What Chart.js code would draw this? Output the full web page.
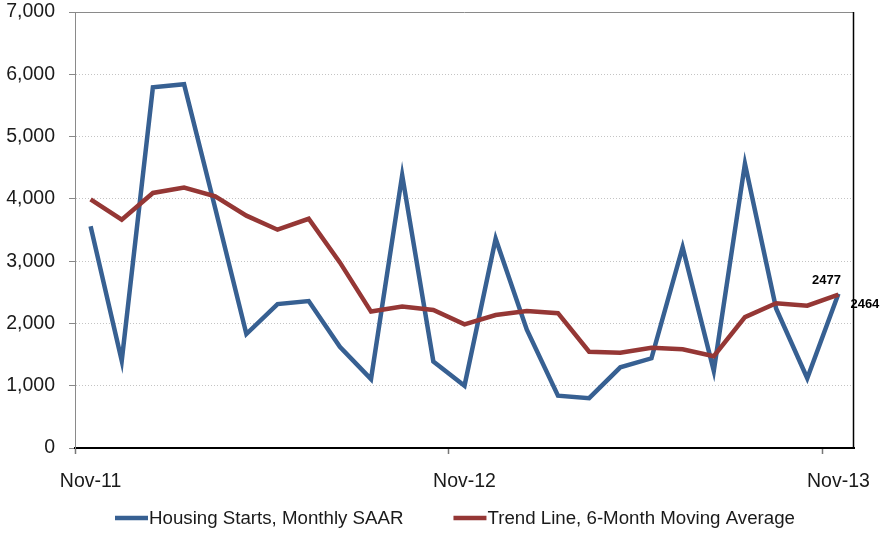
<!DOCTYPE html>
<html>
<head>
<meta charset="utf-8">
<script src="https://cdn.jsdelivr.net/npm/chart.js@4.4.0/dist/chart.umd.min.js"></script>
<style>
  html, body { margin: 0; padding: 0; background: #ffffff; }
  #wrap { width: 883px; height: 533px; position: relative; }
  canvas { display: block; }
</style>
</head>
<body>
<div id="wrap"><canvas id="chart" width="883" height="533"></canvas></div>
<script>
// ---- data ----
const months = ['Nov-11','Dec-11','Jan-12','Feb-12','Mar-12','Apr-12','May-12','Jun-12','Jul-12','Aug-12','Sep-12','Oct-12',
                'Nov-12','Dec-12','Jan-13','Feb-13','Mar-13','Apr-13','May-13','Jun-13','Jul-13','Aug-13','Sep-13','Oct-13','Nov-13'];
const housingStarts = [3560, 1400, 5790, 5840, 3850, 1830, 2310, 2360, 1625, 1105, 4380, 1390,
                       1000, 3360, 1900, 840, 800, 1295, 1440, 3225, 1240, 4565, 2240, 1120, 2477];
const trendLine = [3990, 3665, 4095, 4180, 4040, 3730, 3505, 3680, 2980, 2190, 2270, 2215,
                   1985, 2135, 2200, 2165, 1545, 1530, 1610, 1585, 1475, 2100, 2325, 2285, 2464];
const xTickLabels = ['Nov-11', 'Nov-12', 'Nov-13'];
const yTickValues = [0, 1000, 2000, 3000, 4000, 5000, 6000, 7000];
const seriesNames = ['Housing Starts, Monthly SAAR', 'Trend Line, 6-Month Moving Average'];

const FONT = '"Liberation Sans", Arial, sans-serif';
const BLUE = '#376092';
const RED = '#953735';
const TEXT = '#1a1a1a';

// ---- plugins ----
const framePlugin = {
  id: 'frame',
  afterDatasetsDraw(chart) {
    const a = chart.chartArea, ctx = chart.ctx;
    ctx.save();
    ctx.lineWidth = 1;
    ctx.strokeStyle = '#8a8a8a';
    ctx.beginPath(); ctx.moveTo(a.left, a.top + 0.5); ctx.lineTo(a.right, a.top + 0.5); ctx.stroke();
    ctx.lineWidth = 1.5;
    ctx.strokeStyle = '#000000';
    ctx.beginPath(); ctx.moveTo(a.right - 0.5, a.top); ctx.lineTo(a.right - 0.5, a.bottom); ctx.stroke();
    ctx.restore();
  }
};

const endLabelPlugin = {
  id: 'endLabels',
  afterDatasetsDraw(chart) {
    const ctx = chart.ctx;
    ctx.save();
    ctx.font = 'bold 13px ' + FONT;
    ctx.fillStyle = '#000000';
    ctx.textBaseline = 'middle';
    const mb = chart.getDatasetMeta(0);
    const pb = mb.data[mb.data.length - 1];
    ctx.textAlign = 'center';
    ctx.fillText(String(housingStarts[housingStarts.length - 1]), pb.x - 12, pb.y - 13);
    const mr = chart.getDatasetMeta(1);
    const pr = mr.data[mr.data.length - 1];
    ctx.textAlign = 'left';
    ctx.fillText(String(trendLine[trendLine.length - 1]), pr.x + 12, pr.y + 10);
    ctx.restore();
  }
};

const legendPlugin = {
  id: 'bottomLegend',
  afterDraw(chart) {
    const ctx = chart.ctx;
    ctx.save();
    ctx.font = '18.7px ' + FONT;
    ctx.textBaseline = 'middle';
    ctx.textAlign = 'left';
    let x = 115;
    const y = 518;
    chart.data.datasets.forEach(ds => {
      ctx.strokeStyle = ds.borderColor;
      ctx.lineWidth = 4.5;
      ctx.lineCap = 'butt';
      ctx.beginPath(); ctx.moveTo(x, y); ctx.lineTo(x + 33, y); ctx.stroke();
      ctx.fillStyle = TEXT;
      ctx.fillText(ds.label, x + 34, y + 1);
      x += 34 + ctx.measureText(ds.label).width + 50;
    });
    ctx.restore();
  }
};

// ---- chart ----
new Chart(document.getElementById('chart'), {
  type: 'line',
  data: {
    labels: months,
    datasets: [
      { label: seriesNames[0], data: housingStarts, borderColor: BLUE, backgroundColor: BLUE, order: 2 },
      { label: seriesNames[1], data: trendLine, borderColor: RED, backgroundColor: RED, order: 1 }
    ]
  },
  options: {
    responsive: false,
    animation: false,
    devicePixelRatio: 1,
    layout: { padding: { left: 0, right: 29, top: 12, bottom: 0 } },
    elements: {
      point: { radius: 0, hoverRadius: 0 },
      line: { borderWidth: 4.5, tension: 0, borderJoinStyle: 'miter', borderCapStyle: 'butt', fill: false }
    },
    plugins: { legend: { display: false }, tooltip: { enabled: false } },
    scales: {
      x: {
        type: 'category',
        offset: true,
        grid: {
          offset: true,
          drawOnChartArea: false,
          drawTicks: true,
          tickLength: 6,
          tickWidth: 1.5,
          tickColor: (c) => (c.index !== undefined && xTickLabels.includes(months[c.index])) ? '#777777' : 'rgba(0,0,0,0)'
        },
        border: { display: true, color: '#000000', width: 2 },
        ticks: {
          autoSkip: false,
          maxRotation: 0,
          minRotation: 0,
          padding: 16,
          color: TEXT,
          font: { family: FONT, size: 19.5 },
          callback: function (value, index) {
            const lab = months[index];
            return xTickLabels.includes(lab) ? lab : '';
          }
        },
        afterFit: (s) => { s.height = 85; s.paddingLeft = 0; s.paddingRight = 0; }
      },
      y: {
        min: 0,
        max: 7000,
        afterBuildTicks: (s) => { s.ticks = yTickValues.map(v => ({ value: v })); },
        grid: {
          drawOnChartArea: true,
          drawTicks: true,
          tickLength: 6,
          lineWidth: 1,
          color: (c) => (c.tick && (c.tick.value === 0 || c.tick.value === 7000)) ? 'rgba(0,0,0,0)' : '#c4c4c4',
          tickColor: '#888888',
          tickWidth: 1,
          tickBorderDash: []
        },
        border: { display: true, color: '#8a8a8a', width: 1, dash: [1, 2] },
        ticks: {
          padding: 14,
          color: TEXT,
          font: { family: FONT, size: 19.5 },
          callback: (v) => Number(v).toLocaleString('en-US')
        },
        afterFit: (s) => { s.width = 75; s.paddingTop = 0; s.paddingBottom = 0; }
      }
    }
  },
  plugins: [framePlugin, endLabelPlugin, legendPlugin]
});
</script>
</body>
</html>
